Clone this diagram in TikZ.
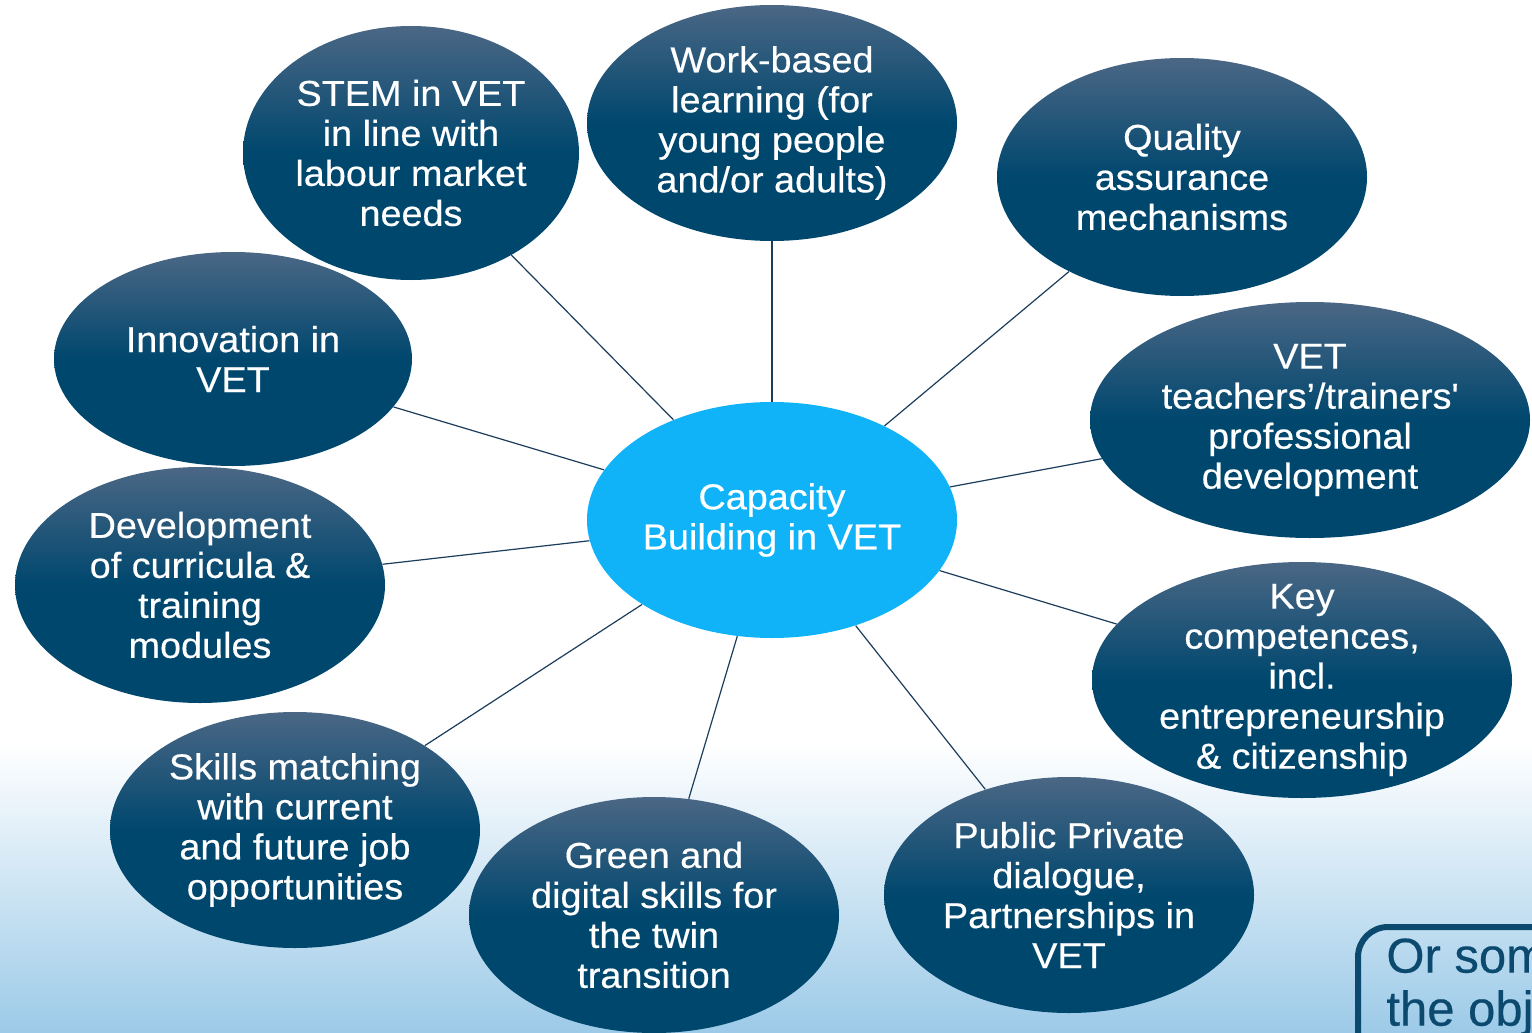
\documentclass[tikz,border=0pt]{standalone}
\usepackage{fontspec}
\setmainfont{Liberation Sans}[FakeStretch=1.05, FakeBold=0.4]
\newfontfamily\notefont{Liberation Sans}[FakeBold=0.4]
\usetikzlibrary{shapes}

\definecolor{ovaldark}{HTML}{00476E}
\definecolor{ovaltop}{HTML}{4B6785}
\definecolor{hubblue}{HTML}{10B3F7}
\definecolor{spokeline}{HTML}{1C3D5C}
\definecolor{bgblue}{HTML}{9CCAE8}
\definecolor{boxblue}{HTML}{0B4A6E}

\pgfdeclareverticalshading{ovalshade}{100bp}{color(0bp)=(ovaldark); color(25bp)=(ovaldark); color(50bp)=(ovaldark); color(75bp)=(ovaltop); color(100bp)=(ovaltop)}
\pgfdeclareverticalshading{bgshade}{100bp}{color(0bp)=(bgblue); color(25bp)=(bgblue); color(39bp)=(white); color(100bp)=(white)}

\begin{document}
\begin{tikzpicture}[x=0.5pt, y=-0.5pt,
    oval/.style={ellipse, inner sep=0pt, minimum width=185pt, minimum height=118pt, shade, shading=ovalshade},
    hub/.style={ellipse, inner sep=0pt, minimum width=185pt, minimum height=118pt, fill=hubblue},
    ovaltext/.style={text=white, align=center, inner sep=0pt, font=\fontsize{18}{20}\selectfont},
    spoke/.style={draw=spokeline, line width=0.6pt}]
    \useasboundingbox (0,0) rectangle (1532,1033);
    \clip (0,0) rectangle (1532,1033);
    \shade[shading=bgshade] (0,0) rectangle (1532,1033);

    % centre
    \node[hub] (hub) at (772,520) {};
    \node[ovaltext] (hub-t) at (hub) {Capacity\\Building in VET};

    % topics
    \node[oval, minimum width=168pt, minimum height=127pt] (stem) at (411,153) {};
    \node[ovaltext] (stem-t) at (stem) {STEM in VET\\in line with\\labour market\\needs};
    \node[oval] (work) at (772,123) {};
    \node[ovaltext] (work-t) at (work) {Work-based\\learning (for\\young people\\and/or adults)};
    \node[oval, minimum height=119pt] (quality) at (1182,177) {};
    \node[ovaltext] (quality-t) at (quality) {Quality\\assurance\\mechanisms};
    \node[oval, minimum width=220pt] (teachers) at (1310,420) {};
    \node[ovaltext] (teachers-t) at (teachers) {VET\\teachers’/trainers\textquotesingle\\professional\\development};
    \node[oval, minimum width=210pt] (key) at (1302,680) {};
    \node[ovaltext] (key-t) at (key) {Key\\competences,\\incl.\\entrepreneurship\\\& citizenship};
    \node[oval] (public) at (1069,895) {};
    \node[ovaltext] (public-t) at (public) {Public Private\\dialogue,\\Partnerships in\\VET};
    \node[oval] (green) at (654,915) {};
    \node[ovaltext] (green-t) at (green) {Green and\\digital skills for\\the twin\\transition};
    \node[oval] (skills) at (295,830) {};
    \node[ovaltext] (skills-t) at (skills) {Skills matching\\with current\\and future job\\opportunities};
    \node[oval] (devel) at (200,585) {};
    \node[ovaltext] (devel-t) at (devel) {Development\\of curricula \&\\training\\modules};
    \node[oval, minimum width=179pt, minimum height=107pt] (innov) at (233,359) {};
    \node[ovaltext] (innov-t) at (innov) {Innovation in\\VET};

    % spokes
    \foreach \n in {stem,work,quality,teachers,key,public,green,skills,devel,innov}
        \draw[spoke] (hub) -- (\n);

    % side box
    \draw[draw=boxblue, line width=3pt, rounded corners=15pt] (1358,1100) |- (1600,927);
    \node[anchor=north west, align=left, text=boxblue, inner sep=0pt, font=\notefont\fontsize{24.5}{26.5}\selectfont] (other) at (1386,938) {Or some\\the obj};
\end{tikzpicture}
\end{document}
